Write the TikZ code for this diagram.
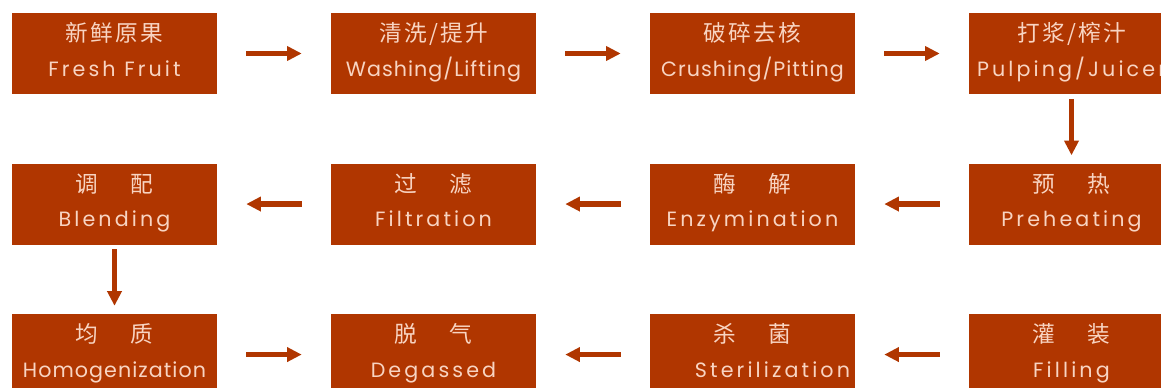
\documentclass[tikz,border=0pt]{standalone}
\usepackage{fontspec}
\setmainfont{Poppins}[LetterSpace=15]
\newfontfamily\ennarrow{Poppins}[LetterSpace=5]
\newfontfamily\cjk{Noto Sans CJK SC}[LetterSpace=10]
\usetikzlibrary{positioning, arrows.meta}
\definecolor{rust}{RGB}{176, 54, 0}
\definecolor{peach}{RGB}{248, 212, 194}
\newcommand{\cn}[1]{\rule{0pt}{16pt}{\cjk\fontsize{17}{25.8}\selectfont #1}}
\newcommand{\en}[1]{\rule[-8pt]{0pt}{8pt}#1}
\newcommand{\cngap}{\hspace{24pt}}

\begin{document}
\begin{tikzpicture}[
						x=0.75pt, y=-0.75pt,
						stage/.style={fill=rust, text=peach, minimum width=153.75pt, minimum height=60.75pt, inner sep=0pt, align=center, font=\fontsize{15.5}{25.8}\selectfont},
						flow/.style={draw=rust, line width=4.2pt, -{Triangle[length=11pt, width=10.5pt]}, shorten <=21.75pt, shorten >=21.75pt},
						drop/.style={draw=rust, line width=4.2pt, -{Triangle[length=11pt, width=10.5pt]}, shorten <=3.5pt, shorten >=6pt},
						node distance=51.75pt and 85.1pt
					]
					\useasboundingbox (0,0) rectangle (1161,388);

					% Row 1
					\node[stage] (fresh) at (114.5,53.5) {\cn{新鲜原果}\\\en{Fresh Fruit}};
					\node[stage, right=of fresh] (wash) {\cn{清洗/提升}\\\en{\ennarrow Washing/Lifting}};
					\node[stage, right=of wash] (crush) {\cn{破碎去核}\\\en{\ennarrow Crushing/Pitting}};
					\node[stage, right=of crush] (pulp) {\cn{打浆/榨汁}\\\en{Pulping/Juicer}};

					% Row 2
					\node[stage, below=of pulp] (heat) {\cn{预\cngap 热}\\\en{Preheating}};
					\node[stage, below=of crush] (enzyme) {\cn{酶\cngap 解}\\\en{Enzymination}};
					\node[stage, below=of wash] (filter) {\cn{过\cngap 滤}\\\en{Filtration}};
					\node[stage, below=of fresh] (blend) {\cn{调\cngap 配}\\\en{Blending}};

					% Row 3
					\node[stage, below=of blend] (homog) {\cn{均\cngap 质}\\\en{\ennarrow Homogenization}};
					\node[stage, below=of filter] (degas) {\cn{脱\cngap 气}\\\en{Degassed}};
					\node[stage, below=of enzyme] (steril) {\cn{杀\cngap 菌}\\\en{\hspace*{30pt}Sterilization}};
					\node[stage, below=of heat] (fill) {\cn{灌\cngap 装}\\\en{Filling}};

					% Arrows
					\draw[flow] (fresh) -- (wash);
					\draw[flow] (wash) -- (crush);
					\draw[flow] (crush) -- (pulp);
					\draw[drop] (pulp) -- (heat);

					\draw[flow] (heat) -- (enzyme);
					\draw[flow] (enzyme) -- (filter);
					\draw[flow] (filter) -- (blend);
					\draw[drop] (blend) -- (homog);

					\draw[flow] (homog) -- (degas);
					\draw[flow] (steril) -- (degas);
					\draw[flow] (fill) -- (steril);
				\end{tikzpicture}
\end{document}
